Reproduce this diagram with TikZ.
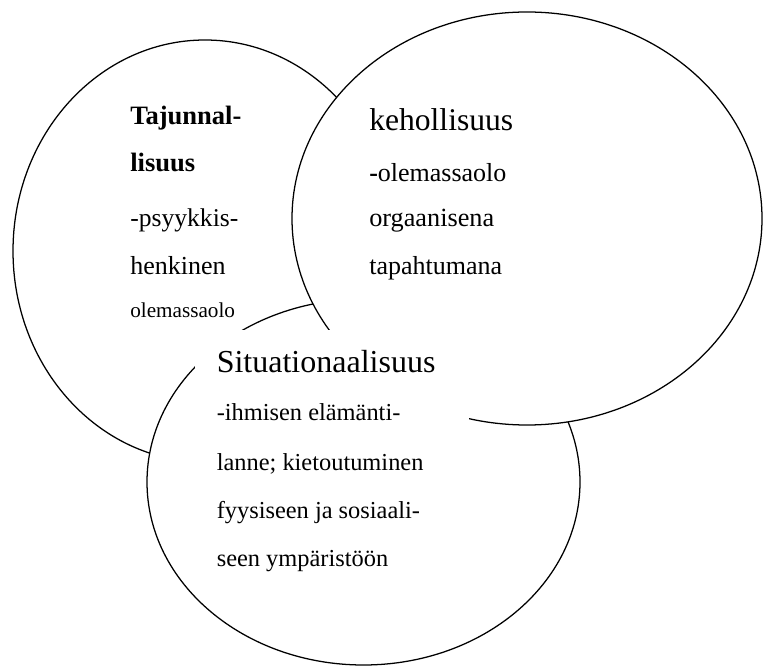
\documentclass[tikz,border=0pt]{standalone}
\usepackage{fontspec}
\setmainfont{Liberation Serif}
\tikzset{>=latex}
\tikzset{
    blob/.style={draw, fill=white, line width=0.95pt},
    word/.style={anchor=base west, inner sep=0pt}
}
\newcommand{\wordline}[5][19.5]{
    \node[word, font=\fontsize{#1}{#1}\selectfont] (#2) at (#3,#4) {#5};
}

\begin{document}
\begin{tikzpicture}[x=0.75pt,y=-0.75pt]
            \useasboundingbox (0,0) rectangle (763,666);
            \filldraw[blob] (205,251) ellipse [x radius=192, y radius=211];
            \filldraw[blob] (363.5,482) ellipse [x radius=216.5, y radius=183];
            \filldraw[blob] (527,218.5) ellipse [x radius=235, y radius=206.5];
            \fill[white] (195,330) rectangle (469,590);
            \wordline[19.9]{taju}{130}{125}{\bfseries Tajunnal-}
            \wordline[19.9]{lisu}{130}{171.5}{\bfseries lisuus}
            \wordline[19.2]{psyk}{130}{226.5}{-psyykkis-}
            \wordline{henk}{130}{275}{henkinen}
            \wordline[15.9]{olem}{130}{317}{olemassaolo}
            \wordline[23.7]{keho}{369}{130.5}{kehollisuus}
            \wordline{olemb}{369}{181.5}{{\bfseries -}olemassaolo}
            \wordline[19.7]{orga}{369}{227}{orgaanisena}
            \wordline{tapa}{369}{275}{tapahtumana}
            \wordline[24]{situ}{216.5}{372.5}{Situationaalisuus}
            \wordline[18.3]{ihmi}{216.5}{420}{-ihmisen elämänti-}
            \wordline[18.3]{lann}{216.5}{470}{lanne; kietoutuminen}
            \wordline[18.3]{fyys}{216.5}{518}{fyysiseen ja sosiaali-}
            \wordline[18.3]{ympa}{216.5}{566.5}{seen ympäristöön}
        \end{tikzpicture}
\end{document}
